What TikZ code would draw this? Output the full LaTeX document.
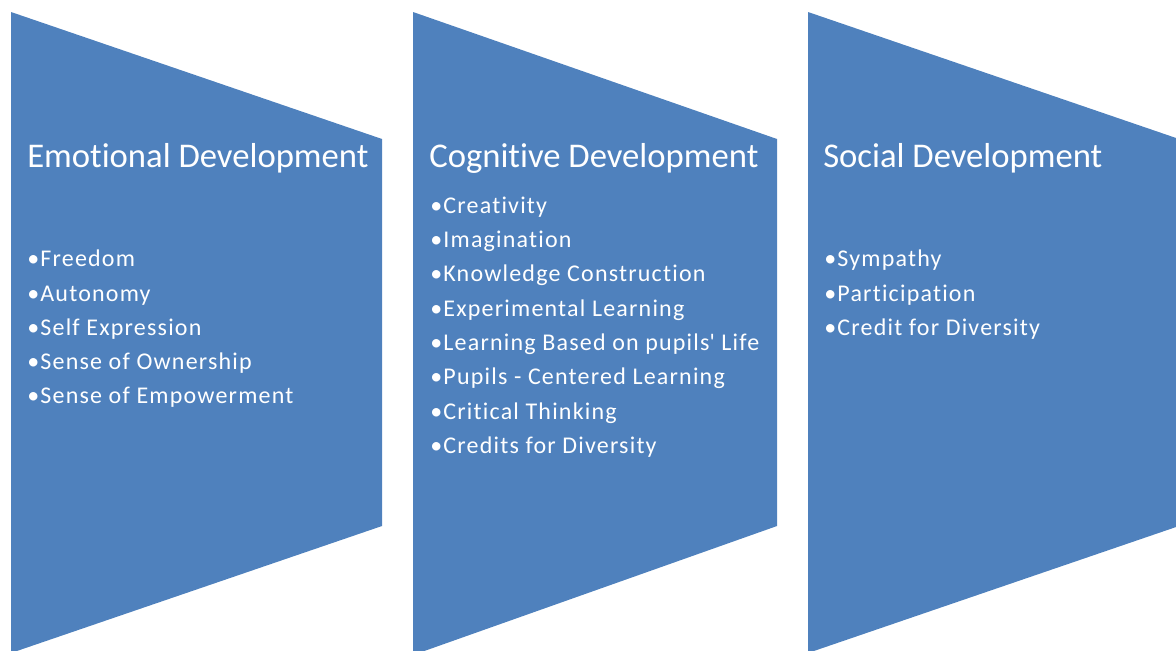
\documentclass[tikz,border=0pt]{standalone}
\usepackage{fontspec}
\setmainfont[Ligatures=NoCommon]{Carlito}
\definecolor{panelblue}{HTML}{4F81BD}
\tikzset{
	panel/.style={fill=panelblue, draw=none},
	heading/.style={anchor=base west, inner sep=0pt, text=white, font=\fontsize{26}{32}\selectfont},
	item/.style={anchor=base west, inner sep=0pt, text=white, font=\fontsize{18}{22}\selectfont\addfontfeature{LetterSpace=5}}
}
\begin{document}
\begin{tikzpicture}[x=0.75pt, y=-0.75pt]
		\useasboundingbox (0,0) rectangle (1176,650);
		\clip (0,0) rectangle (1176,650);
		% the three panels
		\fill[panel] (11,12) -- (382,139) -- (382,526) -- (11,653) -- cycle;
		\fill[panel] (413,12) -- (777,139) -- (777,526) -- (413,655) -- cycle;
		\fill[panel] (808,12) -- (1179,139) -- (1179,526) -- (808,653) -- cycle;
		% headings
		\node [heading] (emo) at (27,167) {Emotional Development};
		\node [heading] (cog) at (429,167) {Cognitive Development};
		\node [heading] (soc) at (823,167) {Social Development};
		% lists
		\foreach \t [count=\i from 0] in {Freedom, Autonomy, Self Expression, Sense of Ownership, Sense of Empowerment}
			\node [item] (emo\i) at (27,266.7+34.3*\i) {•\t};
		\foreach \t [count=\i from 0] in {Creativity, Imagination, Knowledge Construction, Experimental Learning, Learning Based on pupils\textquotesingle{} Life, Pupils - Centered Learning, Critical Thinking, Credits for Diversity}
			\node [item] (cog\i) at (430,213.3+34.3*\i) {•\t};
		\foreach \t [count=\i from 0] in {Sympathy, Participation, Credit for Diversity}
			\node [item] (soc\i) at (824,266.7+34.3*\i) {•\t};
	\end{tikzpicture}
\end{document}
